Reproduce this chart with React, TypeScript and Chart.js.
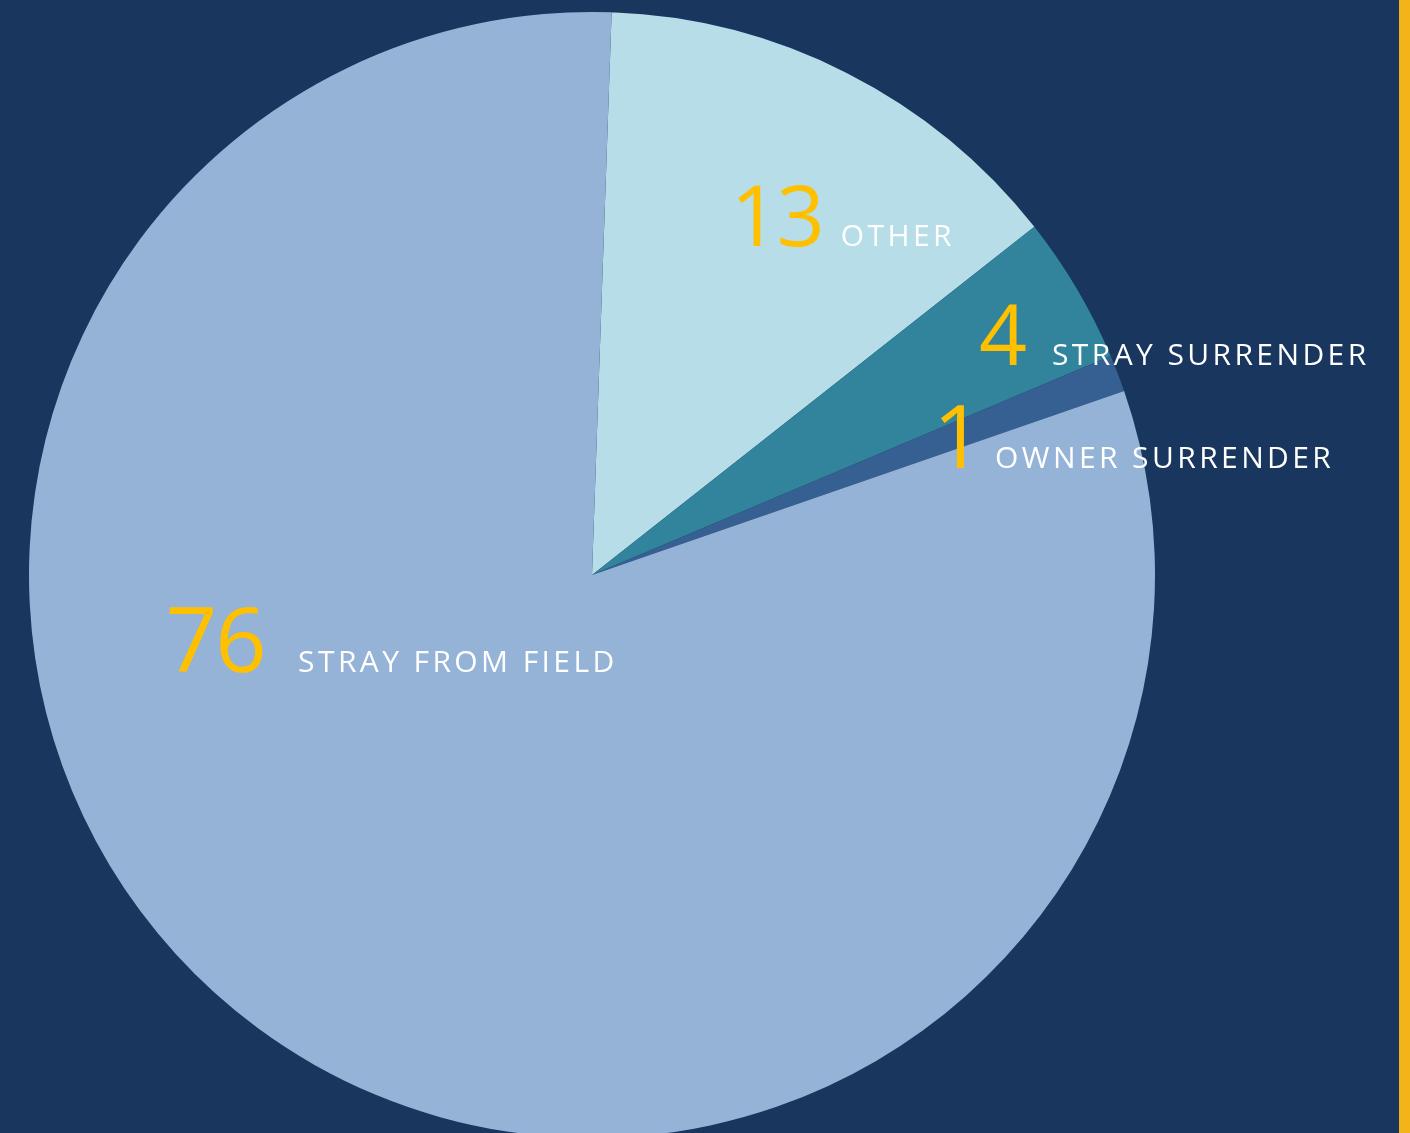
import React, { useEffect, useRef } from "react";
import { Chart, registerables } from "chart.js";

Chart.register(...registerables);

const categories = ["OTHER", "STRAY SURRENDER", "OWNER SURRENDER", "STRAY FROM FIELD"];
const values = [13, 4, 1, 76];
const sliceColors = ["#B7DDE8", "#31849B", "#366092", "#95B3D7"];
// label anchor offsets as fractions of the pie radius (from the pie centre)
const numberAnchorX = [0.259, 0.689, 0.618, -0.75];
const textAnchorX = [0.442, 0.817, 0.716, -0.522];
const labelAnchorY = [-0.584, -0.373, -0.19, 0.172];
const numberSizes = [84, 84, 88, 90];

const BG = "#18365E";
const YELLOW = "#FFC000";

const labelPlugin = {
  id: "pieLabels",
  afterDatasetsDraw(chart: any) {
    const meta = chart.getDatasetMeta(0);
    const arc0 = meta.data[0];
    if (!arc0) return;
    const cx = arc0.x;
    const cy = arc0.y;
    const r = arc0.outerRadius;
    const ctx = chart.ctx;
    ctx.save();
    ctx.textBaseline = "alphabetic";
    ctx.textAlign = "left";
    values.forEach((v, i) => {
      const x = cx + numberAnchorX[i] * r;
      const y = cy + labelAnchorY[i] * r;
      ctx.font = `400 ${numberSizes[i]}px "Open Sans", sans-serif`;
      (ctx as any).letterSpacing = "-2px";
      ctx.fillStyle = YELLOW;
      const txt = String(v);
      const m = ctx.measureText(txt);
      ctx.fillText(txt, x + m.actualBoundingBoxLeft, y);
      ctx.font = `400 30px "Open Sans", sans-serif`;
      (ctx as any).letterSpacing = "3.4px";
      ctx.fillStyle = "#FFFFFF";
      ctx.fillText(categories[i], cx + textAnchorX[i] * r, y);
    });
    ctx.restore();
  },
};

export default function App() {
  const ref = useRef<HTMLCanvasElement>(null);
  useEffect(() => {
    document.body.style.margin = "0";
    const chart = new Chart(ref.current!, {
      type: "pie",
      data: {
        labels: categories,
        datasets: [
          {
            data: values,
            backgroundColor: sliceColors,
            borderWidth: 0,
          },
        ],
      },
      options: {
        animation: false,
        responsive: false,
        maintainAspectRatio: false,
        rotation: 2,
        layout: { padding: { top: 12, bottom: 2, left: 29, right: 244 } },
        plugins: {
          legend: { display: false },
          tooltip: { enabled: false },
        },
      },
      plugins: [labelPlugin],
    });
    return () => chart.destroy();
  }, []);
  return (
    <div
      style={{
        position: "fixed",
        left: 0,
        top: 0,
        width: 1410,
        height: 1133,
        background: BG,
        overflow: "hidden",
      }}
    >
      <canvas ref={ref} width={1399} height={1140} style={{ position: "absolute", left: 0, top: 0 }} />
      <div
        style={{
          position: "absolute",
          left: 1399,
          top: 0,
          width: 11,
          height: 1133,
          background: "#F2B418",
        }}
      />
    </div>
  );
}
